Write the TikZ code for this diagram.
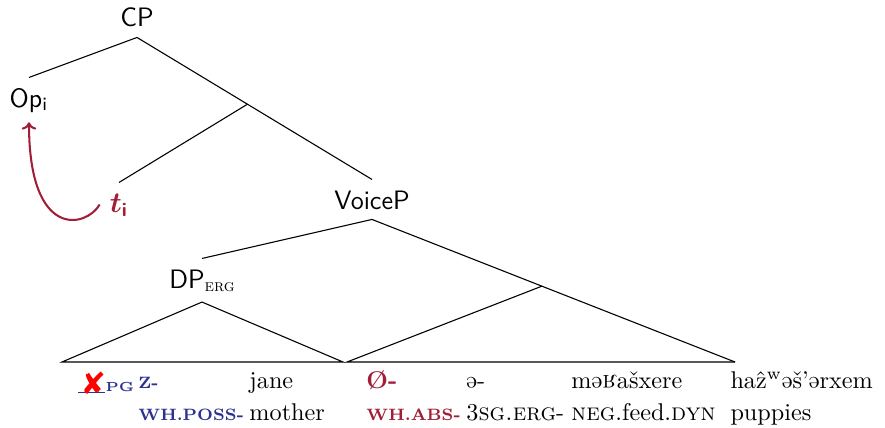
\documentclass[tikz,border=0pt]{standalone}
\usepackage{amsmath}
\usepackage{fontspec}
\usepackage{graphicx}
\newfontfamily\symfont{DejaVu Sans}
\usetikzlibrary{arrows.meta,calc}

\definecolor{wine}{RGB}{160,30,55}
\definecolor{navy}{RGB}{45,50,145}

% IPA letters built from Latin Modern glyphs
\newcommand\schwa{\rotatebox[origin=c]{180}{e}}
\newcommand\invR{\rotatebox[origin=c]{180}{\reflectbox{\textsc{r}}}}
% bold small-caps style glosses
\newcommand\bsc[1]{{\bfseries\fontsize{6.8}{9}\selectfont #1}}

\tikzset{
  br/.style={draw=black, line width=0.45pt},
  cat/.style={font=\fontsize{11}{13}\sffamily, inner sep=4pt, text height=8pt, anchor=base},
  gl/.style={anchor=base west, inner sep=0pt, font=\fontsize{10}{12}\selectfont},
  move/.style={draw=wine, line width=0.85pt, -{To[length=3pt,width=6pt]}},
}

\begin{document}
\begin{tikzpicture}[x=0.413pt, y=-0.413pt]
  \useasboundingbox (0,0) rectangle (885,427);

  % category labels
  \node[cat] (CP) at (137,27) {CP};
  \node[cat] (Op) at (29,107) {Op\textsubscript{i}};
  \node[cat, font=\fontsize{11.5}{13}\selectfont] (t) at (119,212)
    {\color{wine}$\boldsymbol{t}$\textsubscript{\sffamily\bfseries i}};
  \node[cat] (VoiceP) at (372,209) {VoiceP};
  \node[cat] (DP) at (202,288)
    {DP\raisebox{-1.5pt}{\rmfamily\fontsize{7}{8}\selectfont\textsc{erg}}};

  % branching points and triangle corners
  \coordinate (m1) at ($(CP.south)!0.47!(VoiceP.north)$);
  \coordinate (l1) at (62,362);
  \coordinate (r1) at (343,362);
  \coordinate (l2) at (347,362);
  \coordinate (r2) at (735,362);
  \coordinate (m2) at ($(VoiceP.south)!0.468!(r2)$);

  % branches
  \draw[br] (CP.south) -- (Op.north);
  \draw[br] (CP.south) -- (m1) -- (VoiceP.north);
  \draw[br] (m1) -- (t.north);
  \draw[br] (VoiceP.south) -- (DP.north);
  \draw[br] (VoiceP.south) -- (m2) -- (r2);
  \draw[br] (m2) -- (l2) -- (r2);
  \draw[br] (DP.south) -- (l1) -- (r1) -- cycle;

  % movement of the operator
  \draw[move] (t.west) .. controls (86,228) and (29,240) .. (Op.south);

  % first line: morphemes
  \node[gl] (gap) at (78,388)
    {\color{navy}\rule[-2pt]{10.8pt}{0.55pt}\llap{\color{red}\raisebox{-2.6pt}{\symfont\bfseries\fontsize{12.5}{13}\selectfont ✘}\kern-0.6pt}\kern0.4pt\raisebox{-1.3pt}{\bfseries\fontsize{5.4}{7}\selectfont PG}};
  \node[gl, text=navy] (w1) at (138,388) {\bsc{Z-}};
  \node[gl] (w2) at (249,388) {jane};
  \node[gl, text=wine] (w3) at (366,388) {\textbf{Ø-}};
  \node[gl] (w4) at (466,388) {\schwa-};
  \node[gl] (w5) at (571,388) {m\schwa\invR a\v{s}xere};
  \node[gl] (w6) at (730,388) {ha\^{z}\textsuperscript{w}\schwa\v{s}'\schwa rxem};

  % second line: glosses
  \node[gl, text=navy] (g1) at (138,420) {\bsc{WH.POSS-}};
  \node[gl] (g2) at (249,420) {mother};
  \node[gl, text=wine] (g3) at (366,420) {\bsc{WH.ABS-}};
  \node[gl] (g4) at (466,420) {3\textsc{sg.erg}-};
  \node[gl] (g5) at (571,420) {\textsc{neg}.feed.\textsc{dyn}};
  \node[gl] (g6) at (730,420) {puppies};
\end{tikzpicture}
\end{document}
